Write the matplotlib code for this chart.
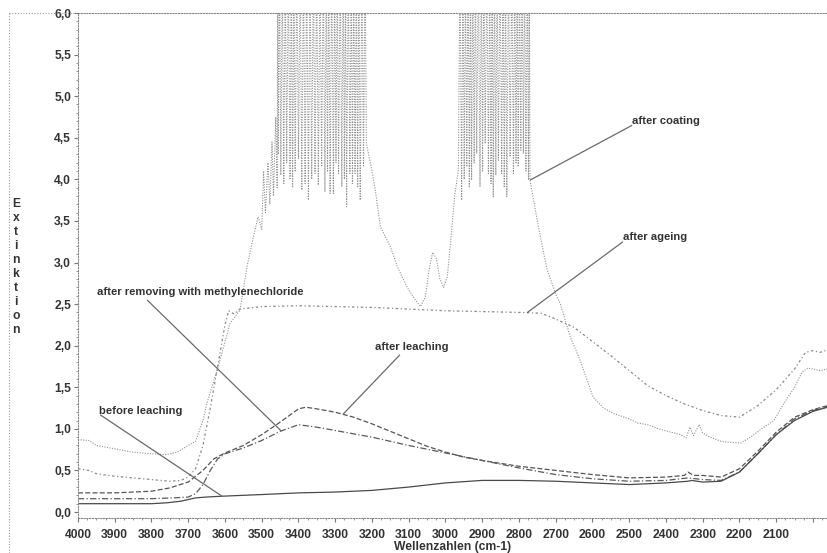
import numpy as np
import matplotlib
matplotlib.use("Agg")
import matplotlib.pyplot as plt
from matplotlib.lines import Line2D

plt.rcParams['font.family'] = ['Liberation Sans', 'DejaVu Sans']

# ---------------------------------------------------------------- spectra
# wavenumbers (cm-1) and extinction values of each measured spectrum

before_wave = [4000, 3900, 3800, 3760, 3720, 3700, 3680, 3650, 3608, 3500, 3400,
               3300, 3200, 3100, 3000, 2900, 2800, 2700, 2600, 2500, 2400, 2340,
               2330, 2300, 2250, 2200, 2150, 2100, 2050, 2000, 1960]
before_ext = [0.10, 0.10, 0.10, 0.11, 0.13, 0.15, 0.17, 0.18, 0.19, 0.21, 0.23,
              0.24, 0.26, 0.30, 0.35, 0.38, 0.38, 0.37, 0.35, 0.33, 0.35, 0.37,
              0.38, 0.36, 0.37, 0.48, 0.70, 0.93, 1.10, 1.21, 1.26]

leach_wave = [4000, 3900, 3800, 3750, 3700, 3660, 3630, 3600, 3550, 3500, 3450,
              3400, 3380, 3350, 3300, 3250, 3200, 3150, 3100, 3050, 3000, 2950,
              2900, 2800, 2700, 2600, 2500, 2400, 2350, 2340, 2325, 2300, 2250,
              2200, 2150, 2100, 2050, 2000, 1960]
leach_ext = [0.23, 0.23, 0.25, 0.29, 0.36, 0.50, 0.64, 0.71, 0.80, 0.93, 1.08,
             1.24, 1.26, 1.24, 1.20, 1.14, 1.06, 0.97, 0.88, 0.79, 0.72, 0.66,
             0.62, 0.55, 0.50, 0.45, 0.41, 0.42, 0.44, 0.48, 0.44, 0.44, 0.42,
             0.52, 0.73, 0.96, 1.14, 1.23, 1.28]

methyl_wave = [4000, 3800, 3740, 3700, 3680, 3660, 3640, 3620, 3600, 3550, 3500,
               3450, 3400, 3350, 3300, 3200, 3100, 3000, 2900, 2800, 2700, 2600,
               2500, 2400, 2340, 2320, 2300, 2250, 2200, 2150, 2100, 2050, 2000,
               1960]
methyl_ext = [0.16, 0.16, 0.17, 0.18, 0.22, 0.33, 0.50, 0.64, 0.70, 0.77, 0.86,
              0.97, 1.05, 1.02, 0.98, 0.90, 0.80, 0.71, 0.62, 0.53, 0.45, 0.40,
              0.37, 0.38, 0.41, 0.40, 0.39, 0.38, 0.48, 0.70, 0.93, 1.12, 1.22,
              1.27]

ageing_wave = [4000, 3970, 3950, 3900, 3850, 3800, 3750, 3720, 3700, 3680, 3660,
               3640, 3620, 3600, 3590, 3575, 3560, 3500, 3400, 3300, 3200, 3100,
               3000, 2900, 2800, 2740, 2700, 2650, 2600, 2550, 2500, 2450, 2400,
               2350, 2300, 2250, 2200, 2150, 2100, 2050, 2020, 2000, 1980, 1960]
ageing_ext = [0.52, 0.50, 0.46, 0.43, 0.41, 0.39, 0.37, 0.38, 0.42, 0.52, 0.80,
              1.25, 1.75, 2.25, 2.42, 2.38, 2.44, 2.47, 2.48, 2.47, 2.46, 2.44,
              2.42, 2.41, 2.40, 2.39, 2.32, 2.22, 2.05, 1.88, 1.70, 1.52, 1.40,
              1.30, 1.22, 1.16, 1.14, 1.28, 1.47, 1.72, 1.92, 1.94, 1.92, 1.95]

# after coating: smooth rise, two saturated C-H / O-H bands, smooth tail
coat_a_wave = [4000, 3970, 3950, 3900, 3850, 3800, 3760, 3730, 3700, 3680, 3660,
               3649, 3621, 3586, 3559, 3540, 3523, 3510, 3500, 3495, 3490, 3483,
               3478, 3472, 3468, 3462, 3458]
coat_a_ext = [0.87, 0.86, 0.80, 0.76, 0.72, 0.70, 0.69, 0.72, 0.80, 0.85, 1.10,
              1.31, 1.71, 2.27, 2.43, 2.95, 3.30, 3.55, 3.40, 4.10, 3.60, 4.20,
              3.70, 4.45, 3.80, 4.75, 3.90]

band1_wave = [3455, 3448, 3440, 3432, 3423, 3416, 3409, 3400, 3391, 3382, 3373,
              3364, 3355, 3346, 3337, 3328, 3321, 3314, 3305, 3298, 3291, 3282,
              3275, 3269, 3260, 3253, 3246, 3239, 3232, 3223]
band1_ext = [4.30, 4.05, 3.95, 4.20, 4.01, 3.90, 4.09, 4.25, 3.87, 3.95, 3.75,
             4.00, 4.07, 3.93, 4.15, 3.85, 4.10, 3.83, 3.83, 4.20, 4.07, 3.91,
             4.00, 3.67, 4.07, 3.95, 4.07, 3.90, 3.75, 4.15]

coat_b_wave = [3215, 3200, 3191, 3177, 3150, 3131, 3104, 3082, 3068, 3055, 3045,
               3035, 3025, 3015, 3005, 2995, 2985, 2975, 2965]
coat_b_ext = [4.43, 4.10, 3.87, 3.43, 3.19, 2.95, 2.70, 2.55, 2.47, 2.58, 2.90,
              3.12, 3.05, 2.80, 2.70, 2.83, 3.30, 3.80, 4.10]

band2_wave = [2956, 2949, 2942, 2935, 2929, 2922, 2915, 2906, 2899, 2892, 2883,
              2876, 2870, 2863, 2856, 2847, 2840, 2833, 2824, 2815, 2808, 2802,
              2795, 2788, 2781, 2774]
band2_ext = [3.75, 4.00, 4.15, 3.90, 3.99, 4.20, 4.31, 3.91, 4.10, 4.43, 4.07,
             3.95, 3.79, 4.05, 4.23, 4.07, 3.90, 3.79, 4.27, 4.07, 4.20, 4.15,
             4.35, 4.31, 4.10, 3.99]

coat_c_wave = [2770, 2750, 2730, 2723, 2700, 2688, 2660, 2634, 2598, 2570, 2540,
               2500, 2477, 2450, 2420, 2387, 2360, 2345, 2335, 2325, 2310, 2300,
               2280, 2250, 2232, 2196, 2170, 2140, 2106, 2080, 2050, 2030, 2014,
               2000, 1980, 1960]
coat_c_ext = [3.99, 3.50, 3.05, 2.91, 2.62, 2.51, 2.10, 1.83, 1.38, 1.25, 1.18,
              1.12, 1.07, 1.05, 1.00, 0.96, 0.93, 0.89, 1.02, 0.92, 1.05, 0.95,
              0.90, 0.85, 0.84, 0.83, 0.90, 1.00, 1.10, 1.30, 1.50, 1.68, 1.73,
              1.72, 1.70, 1.72]

SATURATION = 6.6   # detector overflow, drawn above the plotted range

x_ticks = list(range(4000, 1999, -100))
y_ticks = [0.0, 0.5, 1.0, 1.5, 2.0, 2.5, 3.0, 3.5, 4.0, 4.5, 5.0, 5.5, 6.0]


def saturated(wave, ext):
    """Interleave each trough with an overflow spike before it."""
    w_out, e_out = [], []
    prev = None
    for w, e in zip(wave, ext):
        if prev is not None:
            w_out.append((prev + w) / 2.0)
            e_out.append(SATURATION)
        w_out.append(w)
        e_out.append(e)
        prev = w
    return w_out, e_out


b1w, b1e = saturated(band1_wave, band1_ext)
b2w, b2e = saturated(band2_wave, band2_ext)
coat_wave = (coat_a_wave + [coat_a_wave[-1] - 1.5] + b1w + [band1_wave[-1] - 4]
             + coat_b_wave + [coat_b_wave[-1] - 4.5] + b2w + [band2_wave[-1] - 2]
             + coat_c_wave)
coat_ext = (coat_a_ext + [SATURATION] + b1e + [SATURATION]
            + coat_b_ext + [SATURATION] + b2e + [SATURATION]
            + coat_c_ext)

# ---------------------------------------------------------------- figure
W, H = 828, 553
fig = plt.figure(figsize=(W / 100, H / 100), dpi=100)
fig.patch.set_facecolor('white')
ax = fig.add_axes([78 / W, 1 - 518 / H, (W - 78) / W, (518 - 13) / H])

ax.plot(coat_wave, coat_ext, color='#929292', lw=0.8, ls=(0, (1, 1.3)))
ax.plot(ageing_wave, ageing_ext, color='#8a8a8a', lw=0.9, ls=(0, (2, 2, 1, 2)))
ax.plot(leach_wave, leach_ext, color='#555555', lw=0.9, ls=(0, (4, 1.8)))
ax.plot(methyl_wave, methyl_ext, color='#5a5a5a', lw=0.9, ls=(0, (5, 1.8, 1, 1.8)))
ax.plot(before_wave, before_ext, color='#4a4a4a', lw=0.9, ls='-')

ax.set_xlim(4000, 1959)
ax.set_ylim(-0.072, 6.0)

ax.set_xticks(x_ticks)
ax.set_xticklabels([str(t) if t > 2000 else '' for t in x_ticks])
ax.set_xticks(np.arange(4000, 1950, -25), minor=True)
ax.set_yticks(y_ticks)
ax.set_yticklabels([f"{t:.1f}".replace('.', ',') for t in y_ticks])
ax.set_yticks(np.arange(0.0, 6.01, 0.1), minor=True)

ax.tick_params(axis='both', which='major', direction='out', length=3, width=0.8,
               color='#777777', labelsize=8.7, labelcolor='#333333', pad=2)
ax.tick_params(axis='both', which='minor', direction='out', length=1.6,
               width=0.6, color='#888888')
ax.tick_params(axis='x', which='major', pad=5)
for lab in ax.get_xticklabels() + ax.get_yticklabels():
    lab.set_fontweight('bold')

for side in ('left', 'top', 'bottom'):
    ax.spines[side].set_linestyle((0, (1, 1.5)))
    ax.spines[side].set_color('#888888')
    ax.spines[side].set_linewidth(0.8)
ax.spines['right'].set_visible(False)

# ---------------------------------------------------------------- labels
label_kw = dict(fontsize=8.1, fontweight='bold', color='#333333',
                ha='left', va='center')
leader_kw = dict(color='#6a6a6a', lw=0.9, solid_capstyle='butt')


def label_curve(text, text_pos, line_start, target_wave, wave, ext):
    target = (target_wave, float(np.interp(target_wave, wave[::-1], ext[::-1])))
    ax.text(text_pos[0], text_pos[1], text, **label_kw)
    ax.plot([line_start[0], target[0]], [line_start[1], target[1]], **leader_kw)


label_curve('after coating', (2492, 4.70), (2492, 4.65), 2770,
            coat_c_wave, coat_c_ext)
label_curve('after ageing', (2517, 3.31), (2517, 3.25), 2778,
            ageing_wave, ageing_ext)
label_curve('after leaching', (3192, 1.98), (3124, 1.89), 3279,
            leach_wave, leach_ext)
label_curve('after removing with methylenechloride', (3948, 2.65), (3812, 2.55),
            3447, methyl_wave, methyl_ext)
label_curve('before leaching', (3943, 1.21), (3940, 1.17), 3608,
            before_wave, before_ext)

fig.text(453 / W, 1 - 547 / H, 'Wellenzahlen (cm-1)', ha='center', va='center',
         fontsize=8.7, fontweight='bold', color='#333333')
for i, ch in enumerate('Extinktion'):
    fig.text(16 / W, 1 - (204 + 14 * i) / H, ch, ha='center', va='center',
             fontsize=8.7, fontweight='bold', color='#333333')

# dotted outer frame
fig.add_artist(Line2D([9 / W, 9 / W], [1 - 13 / H, 0.0], transform=fig.transFigure,
                      color='#999999', lw=0.8, ls=(0, (1, 1.5))))
fig.add_artist(Line2D([9 / W, 78 / W], [1 - 13 / H, 1 - 13 / H],
                      transform=fig.transFigure,
                      color='#999999', lw=0.8, ls=(0, (1, 1.5))))

fig.savefig('out.png', dpi=100)
